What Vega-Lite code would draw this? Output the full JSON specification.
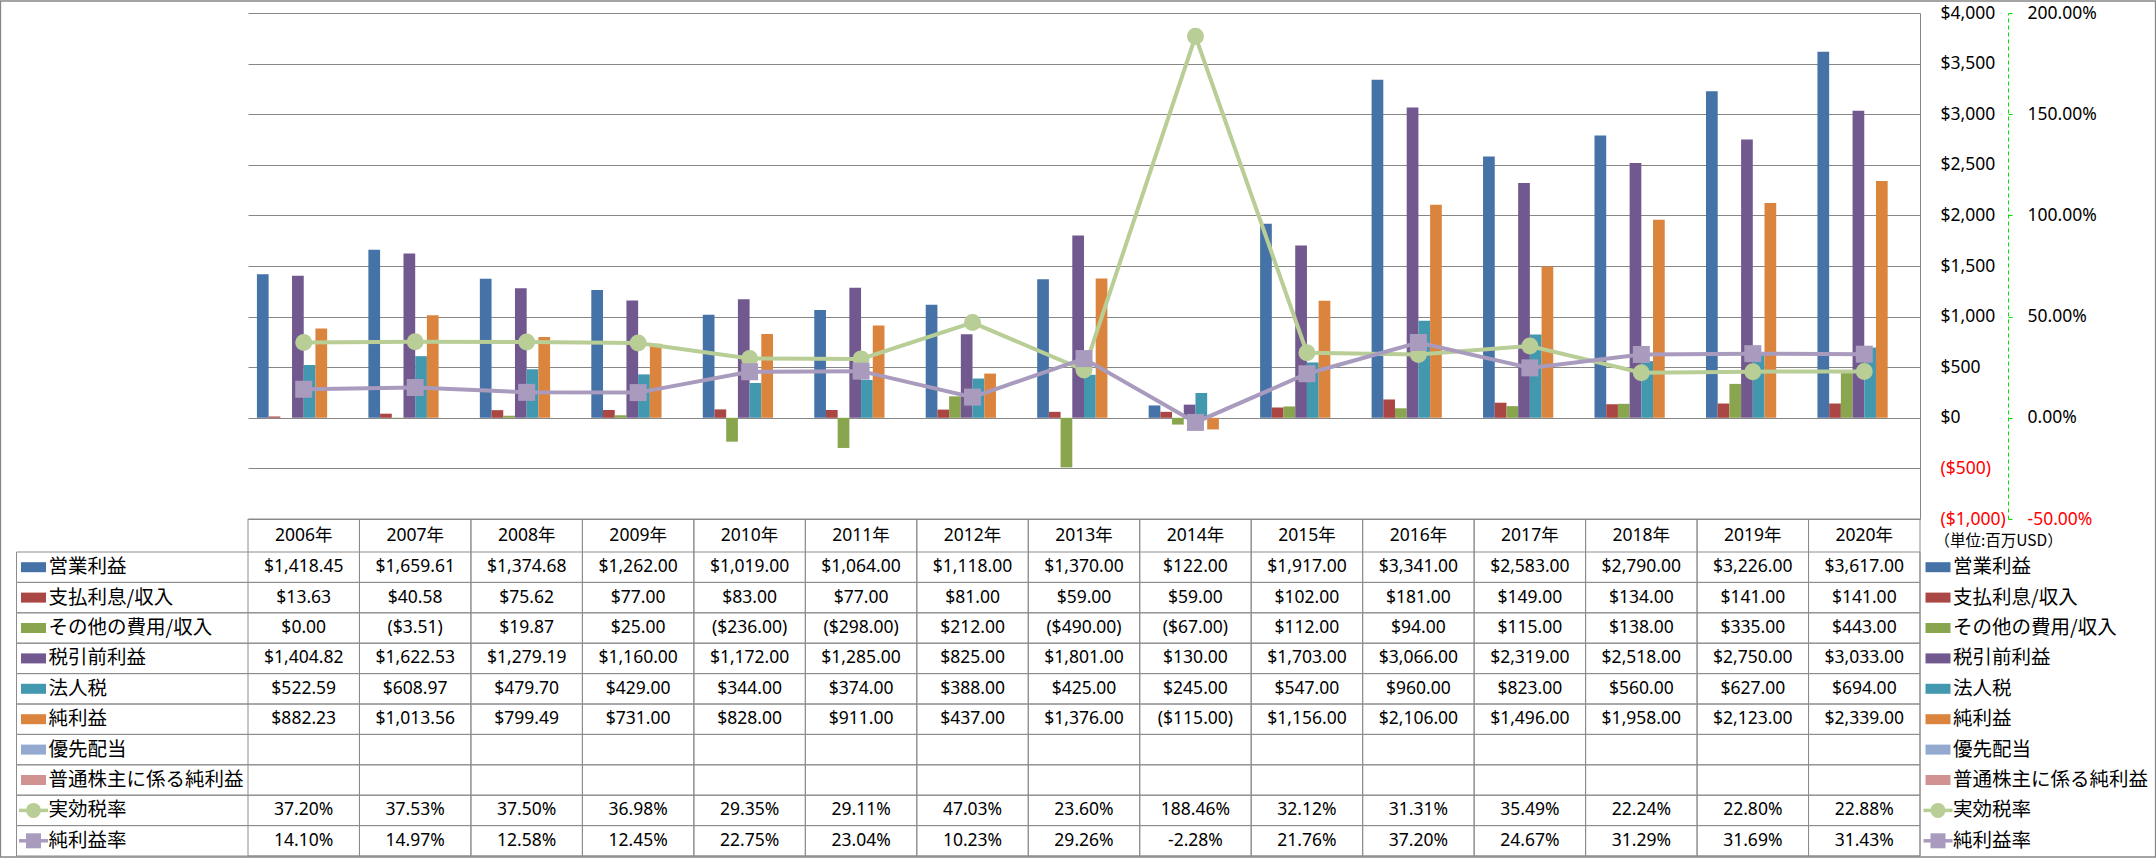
{
"$schema": "https://vega.github.io/schema/vega-lite/v6.json",
"width": 1672, "height": 843,
"autosize": {"type": "none"},
"padding": {"left": 248, "top": 13, "right": 236, "bottom": 2},
"background": "white",
"config": {
  "view": {"stroke": null},
  "locale": {"number": {"decimal": ".", "thousands": ",", "grouping": [3], "currency": ["$", ""], "minus": "-"}},
  "axis": {"labelFont": "Noto Sans", "labelFontSize": 17.5, "labelColor": "#000000"}
},
"datasets": {
  "years": [{"year":"2006年"},{"year":"2007年"},{"year":"2008年"},{"year":"2009年"},{"year":"2010年"},{"year":"2011年"},{"year":"2012年"},{"year":"2013年"},{"year":"2014年"},{"year":"2015年"},{"year":"2016年"},{"year":"2017年"},{"year":"2018年"},{"year":"2019年"},{"year":"2020年"}],
  "series": [{"name":"営業利益"},{"name":"支払利息/収入"},{"name":"その他の費用/収入"},{"name":"税引前利益"},{"name":"法人税"},{"name":"純利益"},{"name":"優先配当"},{"name":"普通株主に係る純利益"},{"name":"実効税率"},{"name":"純利益率"}],
  "bars": [
{"year":"2006年","series":"営業利益","value":1418.45},{"year":"2007年","series":"営業利益","value":1659.61},{"year":"2008年","series":"営業利益","value":1374.68},{"year":"2009年","series":"営業利益","value":1262},{"year":"2010年","series":"営業利益","value":1019},{"year":"2011年","series":"営業利益","value":1064},{"year":"2012年","series":"営業利益","value":1118},{"year":"2013年","series":"営業利益","value":1370},{"year":"2014年","series":"営業利益","value":122},{"year":"2015年","series":"営業利益","value":1917},{"year":"2016年","series":"営業利益","value":3341},{"year":"2017年","series":"営業利益","value":2583},{"year":"2018年","series":"営業利益","value":2790},{"year":"2019年","series":"営業利益","value":3226},{"year":"2020年","series":"営業利益","value":3617},
{"year":"2006年","series":"支払利息/収入","value":13.63},{"year":"2007年","series":"支払利息/収入","value":40.58},{"year":"2008年","series":"支払利息/収入","value":75.62},{"year":"2009年","series":"支払利息/収入","value":77},{"year":"2010年","series":"支払利息/収入","value":83},{"year":"2011年","series":"支払利息/収入","value":77},{"year":"2012年","series":"支払利息/収入","value":81},{"year":"2013年","series":"支払利息/収入","value":59},{"year":"2014年","series":"支払利息/収入","value":59},{"year":"2015年","series":"支払利息/収入","value":102},{"year":"2016年","series":"支払利息/収入","value":181},{"year":"2017年","series":"支払利息/収入","value":149},{"year":"2018年","series":"支払利息/収入","value":134},{"year":"2019年","series":"支払利息/収入","value":141},{"year":"2020年","series":"支払利息/収入","value":141},
{"year":"2006年","series":"その他の費用/収入","value":0},{"year":"2007年","series":"その他の費用/収入","value":-3.51},{"year":"2008年","series":"その他の費用/収入","value":19.87},{"year":"2009年","series":"その他の費用/収入","value":25},{"year":"2010年","series":"その他の費用/収入","value":-236},{"year":"2011年","series":"その他の費用/収入","value":-298},{"year":"2012年","series":"その他の費用/収入","value":212},{"year":"2013年","series":"その他の費用/収入","value":-490},{"year":"2014年","series":"その他の費用/収入","value":-67},{"year":"2015年","series":"その他の費用/収入","value":112},{"year":"2016年","series":"その他の費用/収入","value":94},{"year":"2017年","series":"その他の費用/収入","value":115},{"year":"2018年","series":"その他の費用/収入","value":138},{"year":"2019年","series":"その他の費用/収入","value":335},{"year":"2020年","series":"その他の費用/収入","value":443},
{"year":"2006年","series":"税引前利益","value":1404.82},{"year":"2007年","series":"税引前利益","value":1622.53},{"year":"2008年","series":"税引前利益","value":1279.19},{"year":"2009年","series":"税引前利益","value":1160},{"year":"2010年","series":"税引前利益","value":1172},{"year":"2011年","series":"税引前利益","value":1285},{"year":"2012年","series":"税引前利益","value":825},{"year":"2013年","series":"税引前利益","value":1801},{"year":"2014年","series":"税引前利益","value":130},{"year":"2015年","series":"税引前利益","value":1703},{"year":"2016年","series":"税引前利益","value":3066},{"year":"2017年","series":"税引前利益","value":2319},{"year":"2018年","series":"税引前利益","value":2518},{"year":"2019年","series":"税引前利益","value":2750},{"year":"2020年","series":"税引前利益","value":3033},
{"year":"2006年","series":"法人税","value":522.59},{"year":"2007年","series":"法人税","value":608.97},{"year":"2008年","series":"法人税","value":479.70},{"year":"2009年","series":"法人税","value":429},{"year":"2010年","series":"法人税","value":344},{"year":"2011年","series":"法人税","value":374},{"year":"2012年","series":"法人税","value":388},{"year":"2013年","series":"法人税","value":425},{"year":"2014年","series":"法人税","value":245},{"year":"2015年","series":"法人税","value":547},{"year":"2016年","series":"法人税","value":960},{"year":"2017年","series":"法人税","value":823},{"year":"2018年","series":"法人税","value":560},{"year":"2019年","series":"法人税","value":627},{"year":"2020年","series":"法人税","value":694},
{"year":"2006年","series":"純利益","value":882.23},{"year":"2007年","series":"純利益","value":1013.56},{"year":"2008年","series":"純利益","value":799.49},{"year":"2009年","series":"純利益","value":731},{"year":"2010年","series":"純利益","value":828},{"year":"2011年","series":"純利益","value":911},{"year":"2012年","series":"純利益","value":437},{"year":"2013年","series":"純利益","value":1376},{"year":"2014年","series":"純利益","value":-115},{"year":"2015年","series":"純利益","value":1156},{"year":"2016年","series":"純利益","value":2106},{"year":"2017年","series":"純利益","value":1496},{"year":"2018年","series":"純利益","value":1958},{"year":"2019年","series":"純利益","value":2123},{"year":"2020年","series":"純利益","value":2339}
  ],
  "rates": [
{"year":"2006年","series":"実効税率","value":0.3720},{"year":"2007年","series":"実効税率","value":0.3753},{"year":"2008年","series":"実効税率","value":0.3750},{"year":"2009年","series":"実効税率","value":0.3698},{"year":"2010年","series":"実効税率","value":0.2935},{"year":"2011年","series":"実効税率","value":0.2911},{"year":"2012年","series":"実効税率","value":0.4703},{"year":"2013年","series":"実効税率","value":0.2360},{"year":"2014年","series":"実効税率","value":1.8846},{"year":"2015年","series":"実効税率","value":0.3212},{"year":"2016年","series":"実効税率","value":0.3131},{"year":"2017年","series":"実効税率","value":0.3549},{"year":"2018年","series":"実効税率","value":0.2224},{"year":"2019年","series":"実効税率","value":0.2280},{"year":"2020年","series":"実効税率","value":0.2288},
{"year":"2006年","series":"純利益率","value":0.1410},{"year":"2007年","series":"純利益率","value":0.1497},{"year":"2008年","series":"純利益率","value":0.1258},{"year":"2009年","series":"純利益率","value":0.1245},{"year":"2010年","series":"純利益率","value":0.2275},{"year":"2011年","series":"純利益率","value":0.2304},{"year":"2012年","series":"純利益率","value":0.1023},{"year":"2013年","series":"純利益率","value":0.2926},{"year":"2014年","series":"純利益率","value":-0.0228},{"year":"2015年","series":"純利益率","value":0.2176},{"year":"2016年","series":"純利益率","value":0.3720},{"year":"2017年","series":"純利益率","value":0.2467},{"year":"2018年","series":"純利益率","value":0.3129},{"year":"2019年","series":"純利益率","value":0.3169},{"year":"2020年","series":"純利益率","value":0.3143}
  ]
},
"resolve": {"scale": {"x": "independent", "y": "independent", "color": "independent", "xOffset": "independent", "shape": "independent"}, "axis": {"x": "independent", "y": "independent"}, "legend": {"color": "independent", "shape": "independent"}},
"layer": [
  {
    "data": {"values": [{"frame": "枠"}]},
    "mark": {"type": "rect", "fill": "transparent", "stroke": "#868686", "strokeWidth": 1.3},
    "encoding": {
      "x": {"field": "frame", "type": "nominal", "axis": null, "scale": {"type": "band", "domain": ["枠"], "range": [-247.5, 1907.5], "paddingInner": 0, "paddingOuter": 0}},
      "y": {"field": "frame", "type": "nominal", "axis": null, "scale": {"type": "band", "domain": ["枠"], "range": [-12, 844], "paddingInner": 0, "paddingOuter": 0}}
    }
  },
  {
    "data": {"name": "years"},
    "mark": {"type": "rect", "fill": "transparent", "stroke": "#8c8c8c", "strokeWidth": 1},
    "encoding": {
      "x": {"field": "year", "type": "nominal", "axis": null, "scale": {"type": "band", "range": [0, 1672], "paddingInner": 0, "paddingOuter": 0}},
      "y": {"datum": "表", "type": "nominal", "axis": null, "scale": {"type": "band", "domain": ["表"], "range": [506, 843], "paddingInner": 0, "paddingOuter": 0}}
    }
  },
  {
    "data": {"name": "series"},
    "mark": {"type": "rect", "fill": "transparent", "stroke": "#8c8c8c", "strokeWidth": 1},
    "encoding": {
      "x": {"datum": "全幅", "type": "nominal", "axis": null, "scale": {"type": "band", "domain": ["全幅"], "range": [-231.5, 1672], "paddingInner": 0, "paddingOuter": 0}},
      "y": {"field": "name", "type": "nominal", "axis": null, "scale": {"type": "band", "domain": ["営業利益","支払利息/収入","その他の費用/収入","税引前利益","法人税","純利益","優先配当","普通株主に係る純利益","実効税率","純利益率"], "range": [539, 843], "paddingInner": 0, "paddingOuter": 0}}
    }
  },
  {
    "data": {"name": "bars"},
    "mark": {"type": "bar"},
    "encoding": {
      "x": {"field": "year", "type": "nominal", "axis": null, "scale": {"type": "band", "range": [0, 1672], "paddingInner": 0.16, "paddingOuter": 0.08}},
      "xOffset": {"field": "series", "type": "nominal", "scale": {"domain": ["営業利益","支払利息/収入","その他の費用/収入","税引前利益","法人税","純利益","優先配当","普通株主に係る純利益"], "paddingInner": 0, "paddingOuter": 0}},
      "y": {"field": "value", "type": "quantitative",
        "scale": {"domain": [-1000, 4000], "range": [506, 0], "nice": false},
        "axis": {"orient": "right", "values": [-1000,-500,0,500,1000,1500,2000,2500,3000,3500,4000], "format": "($,.0f", "grid": true, "gridColor": "#868686", "gridWidth": 1, "domain": true, "domainColor": "#868686", "domainWidth": 1, "ticks": false, "labelPadding": 20, "labelAlign": "left", "labelBaseline": "middle", "labelColor": {"condition": {"test": "datum.value < 0", "value": "#FF0000"}, "value": "#000000"}, "labelFont": "Noto Sans", "labelFontSize": 17.5, "labelOverlap": false, "labelBound": false, "labelFlush": false, "title": "（単位:百万USD）", "titleAngle": 0, "titleX": 14, "titleY": 527, "titleAlign": "left", "titleBaseline": "middle", "titleFont": "Noto Sans CJK JP", "titleFontSize": 15.5, "titleFontWeight": "normal", "titleColor": "#000000"}},
      "color": {"field": "series", "type": "nominal", "legend": null, "scale": {"domain": ["営業利益","支払利息/収入","その他の費用/収入","税引前利益","法人税","純利益"], "range": ["#4572A7","#AA4643","#89A54E","#71588F","#4198AF","#DB843D"]}}
    }
  },
  {
    "data": {"name": "rates"},
    "encoding": {
      "x": {"field": "year", "type": "nominal", "axis": null, "bandPosition": 0.5, "scale": {"type": "band", "range": [0, 1672], "paddingInner": 0.16, "paddingOuter": 0.08}},
      "y": {"field": "value", "type": "quantitative",
        "scale": {"domain": [-0.5, 2], "range": [506, 0], "nice": false},
        "axis": {"orient": "right", "offset": 88, "values": [-0.5, 0, 0.5, 1, 1.5, 2], "format": ".2%", "grid": false, "domain": true, "domainColor": "#00E400", "domainDash": [4, 3], "domainWidth": 1, "ticks": true, "tickColor": "#00E400", "tickSize": 4, "labelPadding": 15, "labelAlign": "left", "labelBaseline": "middle", "labelColor": {"condition": {"test": "datum.value < 0", "value": "#FF0000"}, "value": "#000000"}, "labelFont": "Noto Sans", "labelFontSize": 17.5, "labelOverlap": false, "labelBound": false, "labelFlush": false, "title": null}},
      "color": {"field": "series", "type": "nominal", "legend": null, "scale": {"domain": ["実効税率","純利益率"], "range": ["#B9CD96","#A99BBD"]}}
    },
    "layer": [
      {"mark": {"type": "line", "strokeWidth": 4}},
      {"mark": {"type": "point", "filled": true, "opacity": 1, "size": 289},
       "encoding": {"shape": {"field": "series", "type": "nominal", "legend": null, "scale": {"domain": ["実効税率","純利益率"], "range": ["circle","square"]}}}}
    ]
  },
  {
    "data": {"name": "years"},
    "mark": {"type": "text", "font": "Noto Sans, Noto Sans CJK JP", "fontSize": 17.5, "color": "#000000", "align": "center", "baseline": "middle"},
    "encoding": {
      "x": {"field": "year", "type": "nominal", "axis": null, "bandPosition": 0.5, "scale": {"type": "band", "range": [0, 1672], "paddingInner": 0, "paddingOuter": 0}},
      "y": {"datum": "年度", "type": "nominal", "axis": null, "bandPosition": 0.5, "scale": {"type": "band", "domain": ["年度"], "range": [506, 539], "paddingInner": 0, "paddingOuter": 0}},
      "text": {"field": "year"}
    }
  },
  {
    "data": {"name": "bars"},
    "mark": {"type": "text", "font": "Noto Sans", "fontSize": 17.5, "color": "#000000", "align": "center", "baseline": "middle"},
    "encoding": {
      "x": {"field": "year", "type": "nominal", "axis": null, "bandPosition": 0.5, "scale": {"type": "band", "range": [0, 1672], "paddingInner": 0, "paddingOuter": 0}},
      "y": {"field": "series", "type": "nominal", "axis": null, "bandPosition": 0.5, "scale": {"type": "band", "domain": ["営業利益","支払利息/収入","その他の費用/収入","税引前利益","法人税","純利益","優先配当","普通株主に係る純利益","実効税率","純利益率"], "range": [539, 843], "paddingInner": 0, "paddingOuter": 0}},
      "text": {"field": "value", "type": "quantitative", "format": "($,.2f"}
    }
  },
  {
    "data": {"name": "rates"},
    "mark": {"type": "text", "font": "Noto Sans", "fontSize": 17.5, "color": "#000000", "align": "center", "baseline": "middle"},
    "encoding": {
      "x": {"field": "year", "type": "nominal", "axis": null, "bandPosition": 0.5, "scale": {"type": "band", "range": [0, 1672], "paddingInner": 0, "paddingOuter": 0}},
      "y": {"field": "series", "type": "nominal", "axis": null, "bandPosition": 0.5, "scale": {"type": "band", "domain": ["営業利益","支払利息/収入","その他の費用/収入","税引前利益","法人税","純利益","優先配当","普通株主に係る純利益","実効税率","純利益率"], "range": [539, 843], "paddingInner": 0, "paddingOuter": 0}},
      "text": {"field": "value", "type": "quantitative", "format": ".2%"}
    }
  },
  {
    "data": {"name": "series"},
    "resolve": {"scale": {"shape": "independent"}},
    "encoding": {
      "y": {"field": "name", "type": "nominal", "axis": null, "bandPosition": 0.5, "scale": {"type": "band", "domain": ["営業利益","支払利息/収入","その他の費用/収入","税引前利益","法人税","純利益","優先配当","普通株主に係る純利益","実効税率","純利益率"], "range": [539, 843], "paddingInner": 0, "paddingOuter": 0}},
      "color": {"field": "name", "type": "nominal", "legend": null, "scale": {"domain": ["営業利益","支払利息/収入","その他の費用/収入","税引前利益","法人税","純利益","優先配当","普通株主に係る純利益","実効税率","純利益率"], "range": ["#4572A7","#AA4643","#89A54E","#71588F","#4198AF","#DB843D","#93A9CF","#D19392","#B9CD96","#A99BBD"]}}
    },
    "layer": [
      {"mark": {"type": "point", "filled": true, "opacity": 1, "size": 625},
       "encoding": {
         "x": {"datum": "左", "type": "nominal", "axis": null, "scale": {"type": "point", "domain": ["左","右"], "range": [-214.5, 1690], "padding": 0}},
         "shape": {"field": "name", "type": "nominal", "legend": null, "scale": {"domain": ["営業利益","支払利息/収入","その他の費用/収入","税引前利益","法人税","純利益","優先配当","普通株主に係る純利益","実効税率","純利益率"], "range": ["M-1,-0.4H1V0.4H-1Z","M-1,-0.4H1V0.4H-1Z","M-1,-0.4H1V0.4H-1Z","M-1,-0.4H1V0.4H-1Z","M-1,-0.4H1V0.4H-1Z","M-1,-0.4H1V0.4H-1Z","M-1,-0.4H1V0.4H-1Z","M-1,-0.4H1V0.4H-1Z","M-1.16,-0.14H1.16V0.14H-1.16Z","M-1.16,-0.14H1.16V0.14H-1.16Z"]}}
       }},
      {"mark": {"type": "point", "filled": true, "opacity": 1, "size": 625},
       "encoding": {
         "x": {"datum": "右", "type": "nominal", "axis": null, "scale": {"type": "point", "domain": ["左","右"], "range": [-214.5, 1690], "padding": 0}},
         "shape": {"field": "name", "type": "nominal", "legend": null, "scale": {"domain": ["営業利益","支払利息/収入","その他の費用/収入","税引前利益","法人税","純利益","優先配当","普通株主に係る純利益","実効税率","純利益率"], "range": ["M-1,-0.4H1V0.4H-1Z","M-1,-0.4H1V0.4H-1Z","M-1,-0.4H1V0.4H-1Z","M-1,-0.4H1V0.4H-1Z","M-1,-0.4H1V0.4H-1Z","M-1,-0.4H1V0.4H-1Z","M-1,-0.4H1V0.4H-1Z","M-1,-0.4H1V0.4H-1Z","M-1.16,-0.14H1.16V0.14H-1.16Z","M-1.16,-0.14H1.16V0.14H-1.16Z"]}}
       }},
      {"transform": [{"filter": {"field": "name", "oneOf": ["実効税率","純利益率"]}}],
       "mark": {"type": "point", "filled": true, "opacity": 1, "size": 225},
       "encoding": {
         "x": {"datum": "左", "type": "nominal", "axis": null, "scale": {"type": "point", "domain": ["左","右"], "range": [-214.5, 1690], "padding": 0}},
         "shape": {"field": "name", "type": "nominal", "legend": null, "scale": {"domain": ["実効税率","純利益率"], "range": ["circle","square"]}}
       }},
      {"transform": [{"filter": {"field": "name", "oneOf": ["実効税率","純利益率"]}}],
       "mark": {"type": "point", "filled": true, "opacity": 1, "size": 225},
       "encoding": {
         "x": {"datum": "右", "type": "nominal", "axis": null, "scale": {"type": "point", "domain": ["左","右"], "range": [-214.5, 1690], "padding": 0}},
         "shape": {"field": "name", "type": "nominal", "legend": null, "scale": {"domain": ["実効税率","純利益率"], "range": ["circle","square"]}}
       }},
      {"mark": {"type": "text", "font": "Noto Sans CJK JP", "fontSize": 19.5, "color": "#000000", "align": "left", "baseline": "middle", "dx": 15},
       "encoding": {
         "x": {"datum": "左", "type": "nominal", "axis": null, "scale": {"type": "point", "domain": ["左","右"], "range": [-214.5, 1690], "padding": 0}},
         "text": {"field": "name"},
         "color": {"value": "#000000"}
       }},
      {"mark": {"type": "text", "font": "Noto Sans CJK JP", "fontSize": 19.5, "color": "#000000", "align": "left", "baseline": "middle", "dx": 15},
       "encoding": {
         "x": {"datum": "右", "type": "nominal", "axis": null, "scale": {"type": "point", "domain": ["左","右"], "range": [-214.5, 1690], "padding": 0}},
         "text": {"field": "name"},
         "color": {"value": "#000000"}
       }}
    ]
  }
]
}
